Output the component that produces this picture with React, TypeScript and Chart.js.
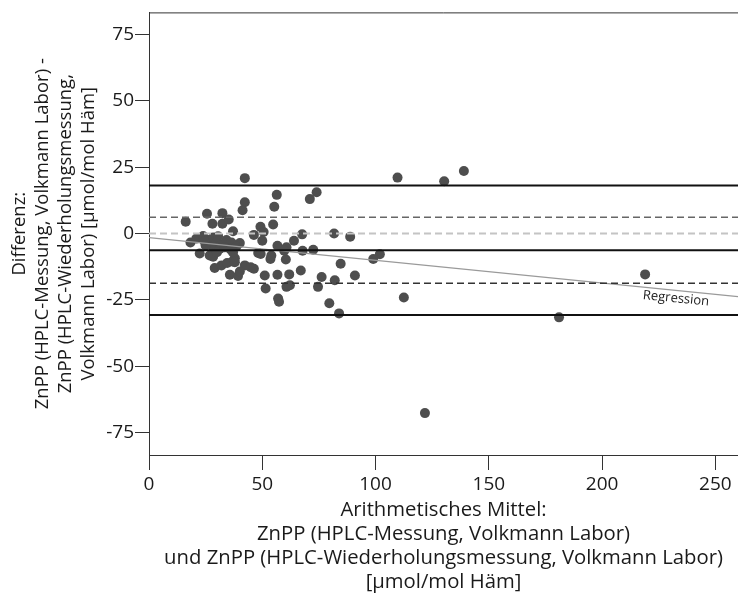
import React, { useEffect, useRef } from "react";
import { Chart, registerables } from "chart.js";

Chart.register(...registerables);

// Arithmetic mean of both measurements (x) and their difference (y)
const meanX = [
  42.3, 42.3, 41.3, 16.2, 25.6, 28.0, 32.4, 32.4, 35.2, 37.1,
  56.4, 55.3, 71.0, 74.0, 46.3, 49.2, 50.6, 54.8, 50.0, 67.6,
  81.7, 88.8, 64.0, 109.7, 130.3, 139.0, 18.3, 20.9, 23.9, 26.1,
  28.3, 29.8, 32.0, 34.2, 36.4, 40.1, 24.5, 30.5, 28.3, 31.2,
  33.4, 36.0, 38.5, 25.0, 22.4, 26.8, 28.3, 30.0, 37.9, 37.1,
  36.8, 29.0, 32.0, 34.5, 37.9, 42.3, 44.9, 46.3, 35.7, 39.3,
  40.1, 56.7, 60.7, 59.7, 67.8, 72.5, 48.2, 49.3, 53.6, 54.0,
  60.4, 67.0, 76.2, 82.0, 84.6, 51.1, 56.7, 61.9, 51.5, 60.7,
  62.2, 57.0, 57.4, 74.6, 79.6, 83.9, 101.9, 99.0, 90.9, 112.5,
  121.8, 219.0, 181.0,
];
const diffY = [
  20.9, 11.8, 8.8, 4.5, 7.5, 3.7, 7.7, 3.7, 5.3, 0.9,
  14.6, 10.1, 13.0, 15.6, -0.5, 2.6, 0.6, 3.4, -2.7, -0.3,
  0.0, -1.2, -2.7, 21.1, 19.7, 23.6, -3.4, -1.9, -0.9, -2.4,
  -1.5, -3.4, -4.0, -2.4, -3.4, -3.6, -3.0, -1.0, -5.2, -5.8,
  -5.2, -6.0, -5.0, -4.5, -7.5, -8.3, -8.7, -7.0, -9.3, -7.1,
  -10.5, -13.0, -12.0, -11.1, -10.8, -12.0, -12.7, -13.3, -15.5, -16.0,
  -14.3, -4.6, -5.2, -6.5, -6.5, -6.1, -7.3, -7.7, -9.6, -8.3,
  -9.8, -13.9, -16.4, -17.6, -11.4, -15.8, -15.5, -15.4, -20.7, -20.1,
  -19.5, -24.5, -25.7, -20.1, -26.3, -30.1, -7.8, -9.6, -15.8, -24.1,
  -67.7, -15.4, -31.6,
];

const xTicks = [0, 50, 100, 150, 200, 250];
const yTicks = [-75, -50, -25, 0, 25, 50, 75];
const xRange = [0, 260];
const yRange = [-83.5, 83.4];

const meanDiff = -6.3;
const upperLoA = 18.1;
const lowerLoA = -30.7;
const upperSD = 6.15;
const lowerSD = -18.75;
const zeroLine = 0;
const regIntercept = -1.5;
const regSlope = -0.0858;
const regLabelX = 233;
const regLabel = "Regression";

const yTitleLines = [
  "Differenz:",
  "ZnPP (HPLC-Messung, Volkmann Labor) -",
  "ZnPP (HPLC-Wiederholungsmessung,",
  "Volkmann Labor) [µmol/mol Häm]",
];
const xTitleLines = [
  "Arithmetisches Mittel:",
  "ZnPP (HPLC-Messung, Volkmann Labor)",
  "und ZnPP (HPLC-Wiederholungsmessung, Volkmann Labor)",
  "[µmol/mol Häm]",
];

const FONT = "'Open Sans', 'DejaVu Sans', sans-serif";
const TEXT = "#1a1a1a";
const AXIS = "#333333";

function hLine(v: number, color: string, width: number, dash: number[]) {
  return {
    type: "line" as const,
    data: [
      { x: xRange[0], y: v },
      { x: xRange[1], y: v },
    ],
    borderColor: color,
    borderWidth: width,
    borderDash: dash,
    pointRadius: 0,
    showLine: true,
    fill: false,
  };
}

const extrasPlugin = {
  id: "extras",
  afterDraw(chart: any) {
    const { ctx, chartArea, scales } = chart;
    const x = scales.x;
    const y = scales.y;
    ctx.save();
    ctx.strokeStyle = AXIS;
    ctx.lineWidth = 1;
    ctx.beginPath();
    ctx.moveTo(chartArea.left, chartArea.top + 0.5);
    ctx.lineTo(chartArea.right, chartArea.top + 0.5);
    ctx.stroke();

    const lx = x.getPixelForValue(regLabelX);
    const ly = y.getPixelForValue(regIntercept + regSlope * regLabelX);
    const ang = Math.atan2(
      y.getPixelForValue(regIntercept + regSlope * 100) - y.getPixelForValue(regIntercept),
      x.getPixelForValue(100) - x.getPixelForValue(0)
    );
    ctx.translate(lx, ly);
    ctx.rotate(ang);
    ctx.font = `13px ${FONT}`;
    ctx.fillStyle = "#222";
    ctx.textAlign = "center";
    ctx.textBaseline = "middle";
    ctx.fillText(regLabel, 0, 8);
    ctx.restore();
  },
};

export default function App() {
  const ref = useRef<HTMLCanvasElement | null>(null);

  useEffect(() => {
    if (!ref.current) return;
    const points = meanX.map((v, i) => ({ x: v, y: diffY[i] }));
    const chart = new Chart(ref.current, {
      type: "scatter",
      data: {
        datasets: [
          hLine(zeroLine, "#c4c4c4", 2, [7, 4]),
          hLine(upperLoA, "#111111", 2, []),
          hLine(meanDiff, "#111111", 2, []),
          hLine(lowerLoA, "#111111", 2, []),
          hLine(upperSD, "#666666", 1.5, [7, 4]),
          hLine(lowerSD, "#333333", 1.5, [7, 4]),
          {
            type: "line" as const,
            data: [
              { x: xRange[0], y: regIntercept + regSlope * xRange[0] },
              { x: xRange[1], y: regIntercept + regSlope * xRange[1] },
            ],
            borderColor: "#9a9a9a",
            borderWidth: 1.2,
            pointRadius: 0,
            showLine: true,
            fill: false,
          },
          {
            data: points,
            backgroundColor: "#4e4e4e",
            borderWidth: 0,
            pointRadius: 5,
            pointHoverRadius: 5,
          },
        ] as any,
      },
      options: {
        animation: false,
        responsive: false,
        events: [],
        layout: { autoPadding: false, padding: { top: 7, right: 0, left: 0, bottom: 0 } },
        plugins: {
          legend: { display: false },
          tooltip: { enabled: false },
        },
        scales: {
          x: {
            type: "linear",
            min: xRange[0],
            max: xRange[1],
            afterFit: (s: any) => {
              s.height = 143;
            },
            afterBuildTicks: (s: any) => {
              s.ticks = xTicks.map((v) => ({ value: v }));
            },
            border: { display: true, color: AXIS, width: 1 },
            grid: {
              display: true,
              drawOnChartArea: false,
              drawTicks: true,
              tickLength: 15,
              tickColor: AXIS,
              tickWidth: 1,
            },
            ticks: {
              padding: 3,
              color: TEXT,
              font: { family: FONT, size: 19 },
              maxRotation: 0,
            },
            title: {
              display: true,
              text: xTitleLines,
              color: TEXT,
              font: { family: FONT, size: 20.3, lineHeight: 24.2 / 20.3 },
              padding: { top: 0, bottom: 3.5 },
            },
          },
          y: {
            type: "linear",
            min: yRange[0],
            max: yRange[1],
            afterFit: (s: any) => {
              s.width = 149;
            },
            afterBuildTicks: (s: any) => {
              s.ticks = yTicks.map((v) => ({ value: v }));
            },
            border: { display: true, color: AXIS, width: 1 },
            grid: {
              display: true,
              drawOnChartArea: false,
              drawTicks: true,
              tickLength: 14,
              tickColor: AXIS,
              tickWidth: 1,
            },
            ticks: {
              padding: 1,
              color: TEXT,
              font: { family: FONT, size: 19 },
            },
            title: {
              display: true,
              text: yTitleLines,
              color: TEXT,
              font: { family: FONT, size: 18.5, lineHeight: 23 / 18.5 },
              padding: { top: 8.5, bottom: 0 },
            },
          },
        },
      } as any,
      plugins: [extrasPlugin],
    });
    return () => chart.destroy();
  }, []);

  return (
    <div style={{ position: "fixed", left: 0, top: 0, width: 738, height: 598, background: "#fff" }}>
      <canvas ref={ref} width={738} height={598} style={{ width: 738, height: 598, display: "block" }} />
    </div>
  );
}
